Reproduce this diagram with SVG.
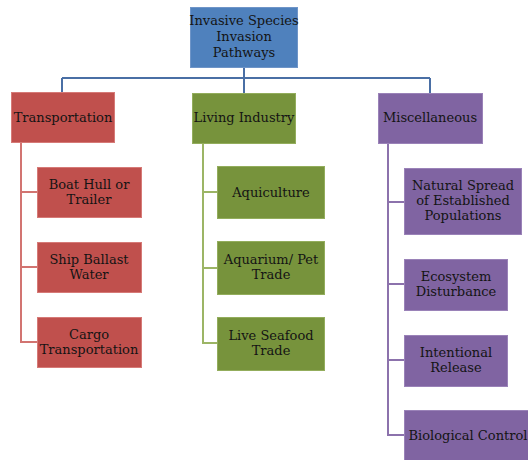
<svg xmlns="http://www.w3.org/2000/svg" width="528" height="460" viewBox="0 0 528 460">
<style>
.t{font-family:"DejaVu Serif","Liberation Serif",serif;font-size:13px;fill:#141414;text-anchor:middle}
.b{fill:#4F81BD;stroke:#6f95c8;stroke-width:1}
.r{fill:#C0504D;stroke:#d67a77;stroke-width:1}
.g{fill:#77933C;stroke:#93ad5c;stroke-width:1}
.p{fill:#8064A2;stroke:#9a82b8;stroke-width:1}
.cb{fill:none;stroke:#4A6FA5;stroke-width:2}
.cr{fill:none;stroke:#D27471;stroke-width:2}
.cg{fill:none;stroke:#9CB565;stroke-width:2}
.cp{fill:none;stroke:#8C72AC;stroke-width:2}
</style>
<rect width="528" height="460" fill="#ffffff"/>
<g id="connectors">
<path class="cb" d="M244 67V78M62 78H430M62 78V92M244 78V93M430 78V93"/>
<path class="cr" d="M21 143V342H37M21 192H37M21 267H37"/>
<path class="cg" d="M203 144V343H217M203 192H217M203 268H217"/>
<path class="cp" d="M388 144V435H404M388 202H404M388 284H404M388 360H404"/>
</g>
<g id="root"><rect class="b" x="190.5" y="7.5" width="107" height="60"/>
<text class="t" x="244" y="25">Invasive Species</text><text class="t" x="244" y="41">Invasion</text><text class="t" x="244" y="57">Pathways</text></g>
<g id="transportation"><rect class="r" x="11.5" y="92.5" width="103" height="50"/><text class="t" x="63" y="122">Transportation</text></g>
<g id="boat-hull"><rect class="r" x="37.5" y="167.5" width="104" height="50"/><text class="t" x="89" y="189">Boat Hull or</text><text class="t" x="89" y="204">Trailer</text></g>
<g id="ship-ballast"><rect class="r" x="37.5" y="242.5" width="104" height="50"/><text class="t" x="89" y="264">Ship Ballast</text><text class="t" x="89" y="279">Water</text></g>
<g id="cargo"><rect class="r" x="37.5" y="317.5" width="104" height="50"/><text class="t" x="89" y="339">Cargo</text><text class="t" x="89" y="354">Transportation</text></g>
<g id="living-industry"><rect class="g" x="192.5" y="93.5" width="103" height="50"/><text class="t" x="244" y="122">Living Industry</text></g>
<g id="aquiculture"><rect class="g" x="217.5" y="166.5" width="107" height="52"/><text class="t" x="271" y="197">Aquiculture</text></g>
<g id="aquarium"><rect class="g" x="217.5" y="241.5" width="107" height="53"/><text class="t" x="271" y="264">Aquarium/ Pet</text><text class="t" x="271" y="279">Trade</text></g>
<g id="live-seafood"><rect class="g" x="217.5" y="317.5" width="107" height="53"/><text class="t" x="271" y="340">Live Seafood</text><text class="t" x="271" y="355">Trade</text></g>
<g id="miscellaneous"><rect class="p" x="378.5" y="93.5" width="104" height="50"/><text class="t" x="430" y="122">Miscellaneous</text></g>
<g id="natural-spread"><rect class="p" x="404.5" y="168.5" width="117" height="66"/><text class="t" x="463" y="190">Natural Spread</text><text class="t" x="463" y="205">of Established</text><text class="t" x="463" y="220">Populations</text></g>
<g id="ecosystem"><rect class="p" x="404.5" y="259.5" width="103" height="51"/><text class="t" x="456" y="281">Ecosystem</text><text class="t" x="456" y="296">Disturbance</text></g>
<g id="intentional"><rect class="p" x="404.5" y="335.5" width="103" height="51"/><text class="t" x="456" y="357">Intentional</text><text class="t" x="456" y="372">Release</text></g>
<g id="biological"><rect class="p" x="404.5" y="410.5" width="130" height="55"/><text class="t" x="468" y="440">Biological Control</text></g>
</svg>
